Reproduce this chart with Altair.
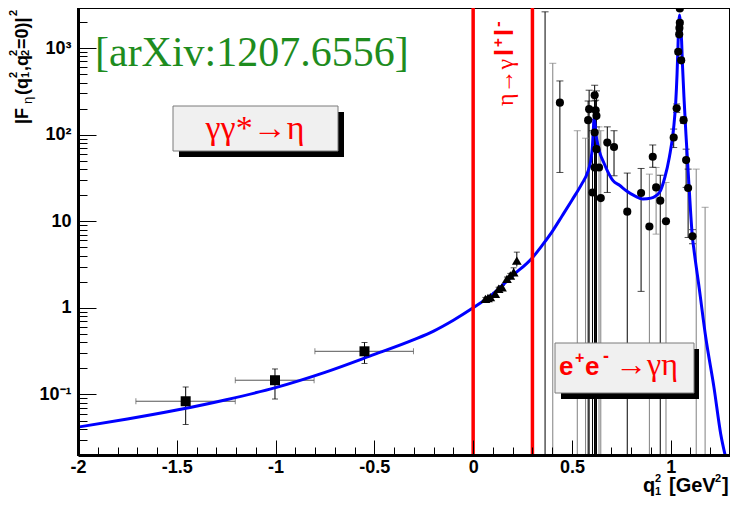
import altair as alt
import pandas as pd

# ---------------- data ----------------
# theory curve |F(q1^2, 0)|^2
curve_x = [-2.0, -1.75, -1.5, -1.25, -1.0, -0.75, -0.5, -0.3, -0.2, -0.1, 0.0, 0.1, 0.2, 0.3,
           0.35, 0.4, 0.45, 0.5, 0.55, 0.58, 0.595, 0.603, 0.608, 0.612, 0.616, 0.622, 0.632,
           0.645, 0.657, 0.68, 0.708, 0.741, 0.775, 0.82, 0.859, 0.90, 0.943, 0.97, 0.993,
           1.015, 1.025, 1.032, 1.037, 1.041, 1.045, 1.050, 1.055, 1.060, 1.068, 1.077, 1.093,
           1.110, 1.118, 1.144, 1.177, 1.219, 1.253, 1.28]
curve_y = [0.042, 0.052, 0.066, 0.087, 0.12, 0.18, 0.29, 0.43, 0.54, 0.72, 1.0, 1.45, 2.36, 3.8,
           5.3, 7.6, 11.5, 17.5, 27.0, 37.0, 50.0, 70.0, 110.0, 155.0, 140.0, 100.0, 75.0,
           58.0, 50.0, 38.0, 29.4, 26.0, 22.5, 19.5, 18.1, 18.5, 21.5, 32.0, 55.0,
           121.0, 230.0, 500.0, 1100.0, 2000.0, 2400.0, 1800.0, 1200.0, 600.0, 245.0, 101.0, 24.6,
           6.5, 4.6, 1.7, 0.46, 0.12, 0.035, 0.018]

# space-like data (squares)
sq_x = [-1.455, -1.003, -0.550]
sq_y = [0.0835, 0.146, 0.315]
sq_xlo = [-1.707, -1.204, -0.801]
sq_xhi = [-1.204, -0.805, -0.302]
sq_ylo = [0.045, 0.0886, 0.228]
sq_yhi = [0.122, 0.197, 0.398]

# eta -> gamma l+ l- (triangles)
tr_x = [0.062, 0.075, 0.087, 0.112, 0.129, 0.146, 0.171, 0.188, 0.205, 0.221]
tr_y = [1.27, 1.30, 1.33, 1.45, 1.66, 1.73, 2.16, 2.36, 2.58, 3.51]
tr_lo = [1.22, 1.25, 1.28, 1.39, 1.59, 1.65, 2.05, 2.22, 2.30, 3.00]
tr_hi = [1.32, 1.35, 1.38, 1.51, 1.73, 1.81, 2.27, 2.50, 2.90, 4.40]

# e+e- -> gamma eta (circles)
ee_x = [0.439, 0.582, 0.587, 0.604, 0.615, 0.615, 0.615, 0.620, 0.624, 0.624, 0.637, 0.646,
        0.679, 0.713, 0.780, 0.850, 0.892, 0.909, 0.926, 0.947, 0.976, 1.015, 1.030, 1.038,
        1.043, 1.044, 1.046, 1.046, 1.053, 1.065, 1.078, 1.088, 1.110]
ee_y = [234, 147, 197, 21.5, 285, 106, 41.8, 191, 165, 68, 41.8, 18.5,
        81, 72, 12.9, 21.2, 8.7, 55.5, 24.6, 17.3, 10.0, 92.6, 202, 906,
        1439, 1700, 1954, 2865, 721, 147, 50.8, 24.2, 6.7]
ee_lo = [36.6, 0.01, 0.01, 0.01, 0.01, 0.01, 0.01, 0.01, 0.01, 0.01, 0.01, 0.01,
         21.5, 33.5, 0.01, 1.55, 0.01, 42, 7.1, 0.01, 0.01, 71, 180, 850,
         1350, 1600, 1850, 2750, 680, 135, 24.6, 6.5, 5.5]
ee_hi = [417, 245, 326, 111, 372, 245, 150, 250, 320, 123, 123, 111,
         123, 111, 36, 40.7, 35, 76, 41.8, 34, 28, 116, 226, 960,
         1530, 1800, 2060, 2980, 765, 160, 68, 40, 8.0]
ee_grp = ['k', 'k', 'k', 'k', 'k', 'k', 'k', 'k', 'k', 'k', 'g', 'g',
          'k', 'k', 'k', 'k', 'g', 'k', 'g', 'k', 'g', 'k', 'k', 'k',
          'k', 'k', 'k', 'k', 'k', 'k', 'k', 'k', 'k']

# e+e- points whose markers lie off the frame (error bars only)
eb_x = [0.364, 0.403, 0.527, 0.569, 1.129, 1.174]
eb_lo = [0.01, 0.01, 0.01, 0.01, 0.01, 0.01]
eb_hi = [2620, 667, 111, 91, 40, 14.5]
eb_grp = ['k', 'g', 'g', 'g', 'g', 'g']

# vertical red lines (q^2 = 0 and threshold)
red_x = [0.0, 0.3]

# axis ticks
x_major = [-2, -1.5, -1, -0.5, 0, 0.5, 1]
x_minor = [-2.0, -1.9, -1.8, -1.7, -1.6, -1.5, -1.4, -1.3, -1.2, -1.1, -1.0, -0.9, -0.8, -0.7,
           -0.6, -0.5, -0.4, -0.3, -0.2, -0.1, 0.0, 0.1, 0.2, 0.3, 0.4, 0.5, 0.6, 0.7, 0.8,
           0.9, 1.0, 1.1, 1.2]
y_major = [0.1, 1, 10, 100, 1000]
y_minor = [0.02, 0.03, 0.04, 0.05, 0.06, 0.07, 0.08, 0.09,
           0.1, 0.2, 0.3, 0.4, 0.5, 0.6, 0.7, 0.8, 0.9,
           1, 2, 3, 4, 5, 6, 7, 8, 9,
           10, 20, 30, 40, 50, 60, 70, 80, 90,
           100, 200, 300, 400, 500, 600, 700, 800, 900,
           1000, 2000]

# ---------------- chart ----------------
PL = 70          # left padding
W, H = 652, 447  # plot area (svg = 722 x 490 so the page never scrolls)
L, T = 8 + PL, 8  # page position of plot origin

curve = pd.DataFrame({'x': curve_x, 'y': curve_y})
sq = pd.DataFrame({'x': sq_x, 'y': sq_y, 'xlo': sq_xlo, 'xhi': sq_xhi, 'ylo': sq_ylo, 'yhi': sq_yhi})
tr = pd.DataFrame({'x': tr_x, 'y': tr_y, 'lo': tr_lo, 'hi': tr_hi})
ee = pd.DataFrame({'x': ee_x, 'y': ee_y, 'lo': ee_lo, 'hi': ee_hi, 'grp': ee_grp})
eb = pd.DataFrame({'x': eb_x, 'lo': eb_lo, 'hi': eb_hi, 'grp': eb_grp})
bars = pd.concat([ee[['x', 'lo', 'hi', 'grp']], eb], ignore_index=True)
red = pd.DataFrame({'x': red_x})
dummy = pd.DataFrame({'a': [0]})

xs = alt.Scale(domain=[-2, 1.3], nice=False, zero=False)
ys = alt.Scale(type='log', domain=[0.02, 2900], nice=False)
gcol = alt.Color('grp:N', scale=alt.Scale(domain=['k', 'g'], range=['#000000', '#808080']), legend=None)

FONT = 'Liberation Sans'
SERIF = 'Liberation Serif'

x_label_axis = alt.Axis(orient='bottom', values=x_major, labelExpr='toString(datum.value)',
                        ticks=False, domain=True, domainWidth=3, domainColor='black',
                        labelFont=FONT, labelFontWeight='bold', labelFontSize=18, labelColor='black',
                        labelPadding=3, labelFlush=False, labelOverlap=False, grid=False, title=None, zindex=2)
y_label_axis = alt.Axis(orient='left', values=y_major,
                        labelExpr="datum.value == 0.1 ? '10\u207b\u00b9' : datum.value == 1 ? '1' : "
                                  "datum.value == 10 ? '10' : datum.value == 100 ? '10\u00b2' : '10\u00b3'",
                        ticks=False, domain=True, domainWidth=3, domainColor='black',
                        labelFont=FONT, labelFontWeight='bold', labelFontSize=18, labelColor='black',
                        labelPadding=7, labelFlush=False, labelOverlap=False, grid=False, title=None, zindex=2)
x_tick_axis = alt.Axis(orient='top', offset=-H, values=x_minor, labels=False, domain=False,
                       tickColor='black', tickWidth=1,
                       tickSize={'condition': {'test': 'abs(datum.value*2 - round(datum.value*2)) < 0.001', 'value': 15},
                                 'value': 8},
                       grid=False, title=None, zindex=2)
y_tick_axis = alt.Axis(orient='right', offset=-W, values=y_minor, labels=False, domain=False,
                       tickColor='black', tickWidth=1,
                       tickSize={'condition': {'test': 'abs(log(datum.value)/LN10 - round(log(datum.value)/LN10)) < 0.001', 'value': 18},
                                 'value': 9},
                       grid=False, title=None, zindex=2)


def X(f, axis=None):
    return alt.X(f, type='quantitative', scale=xs, axis=axis)


def Y(f, axis=None):
    return alt.Y(f, type='quantitative', scale=ys, axis=axis)


layers = []
# error bars of e+e- data
layers.append(alt.Chart(bars).mark_rule(strokeWidth=1, clip=True).encode(
    x=X('x'), y=Y('lo'), y2='hi', color=gcol))
layers.append(alt.Chart(bars).mark_tick(orient='horizontal', size=7, thickness=1, clip=True).encode(
    x=X('x'), y=Y('hi'), color=gcol))
layers.append(alt.Chart(bars).mark_tick(orient='horizontal', size=7, thickness=1, clip=True).encode(
    x=X('x'), y=Y('lo'), color=gcol))
# error bars of squares
layers.append(alt.Chart(sq).mark_rule(strokeWidth=1, color='black').encode(x=X('x'), y=Y('ylo'), y2='yhi'))
layers.append(alt.Chart(sq).mark_rule(strokeWidth=1, color='#555555').encode(x=X('xlo'), x2='xhi', y=Y('y')))
for f in ['ylo', 'yhi']:
    layers.append(alt.Chart(sq).mark_tick(orient='horizontal', size=6, thickness=1, color='black').encode(
        x=X('x'), y=Y(f)))
for f in ['xlo', 'xhi']:
    layers.append(alt.Chart(sq).mark_tick(orient='vertical', size=6, thickness=1, color='#555555').encode(
        x=X(f), y=Y('y')))
# error bars of triangles
layers.append(alt.Chart(tr).mark_rule(strokeWidth=1, color='black').encode(x=X('x'), y=Y('lo'), y2='hi'))
layers.append(alt.Chart(tr).mark_tick(orient='horizontal', size=6, thickness=1, color='black').encode(
    x=X('x'), y=Y('hi')))
# theory curve (carries the labelled axes)
layers.append(alt.Chart(curve).mark_line(color='#0000ff', strokeWidth=3, clip=True, interpolate='monotone').encode(
    x=X('x', x_label_axis), y=Y('y', y_label_axis), order='x:Q'))
# red vertical lines
layers.append(alt.Chart(red).mark_rule(color='#ff0000', strokeWidth=3.5).encode(x=X('x')))
# markers
layers.append(alt.Chart(sq).mark_square(size=100, color='black', opacity=1).encode(x=X('x'), y=Y('y')))
layers.append(alt.Chart(tr).mark_point(shape='triangle-up', filled=True, size=95, color='black', opacity=1).encode(
    x=X('x'), y=Y('y')))
layers.append(alt.Chart(ee).mark_circle(size=66, color='black', opacity=1, clip=True).encode(
    x=X('x', x_tick_axis), y=Y('y', y_tick_axis)))


# ---------------- annotations (page pixel positions) ----------------
def rect(x1, y1, x2, y2, **kw):
    return alt.Chart(dummy).mark_rect(**kw).encode(
        x=alt.value(x1 - L), x2=alt.value(x2 - L), y=alt.value(y1 - T), y2=alt.value(y2 - T))


def txt(s, x, y, size, font=FONT, weight='bold', color='black', angle=0, align='left'):
    return alt.Chart(dummy).mark_text(text=s, font=font, fontSize=size, fontWeight=weight, color=color,
                                      angle=angle, align=align, baseline='alphabetic').encode(
        x=alt.value(x - L), y=alt.value(y - T))


RED = '#ff0000'
layers += [
    txt('[arXiv:1207.6556]', 95, 66, 42, font=SERIF, weight='normal', color='#1e8c1e'),
    rect(179, 112, 344, 157, fill='black'),
    rect(173, 106, 338, 151, fill='#f0f0f0', stroke='#7a7a7a', strokeWidth=1),
    txt('\u03b3\u03b3*\u2192\u03b7', 255, 139, 34, font=SERIF, weight='normal', color=RED, align='center'),
    rect(561, 349, 699, 399, fill='black'),
    rect(555, 343, 694, 393, fill='#f0f0f0', stroke='#7a7a7a', strokeWidth=1),
    txt('e', 559, 375, 26, color=RED),
    txt('+', 575, 363, 16, color=RED),
    txt('e', 585, 375, 26, color=RED),
    txt('-', 603, 362, 18, color=RED),
    txt('\u2192\u03b3\u03b7', 615, 375, 32, font=SERIF, weight='normal', color=RED),
    # vertical label between the red lines
    txt('\u03b7\u2192\u03b3', 513, 106, 24, font=SERIF, weight='normal', color=RED, angle=270),
    txt('l', 513, 56, 25, color=RED, angle=270),
    txt('+', 503, 47, 15, color=RED, angle=270),
    txt('l', 513, 36, 25, color=RED, angle=270),
    txt('-', 503, 27, 17, color=RED, angle=270),
    # y title |F_eta(q1^2,q2^2=0)|^2
    txt('|F', 28, 124, 18, angle=270),
    txt('\u03b7', 32, 104, 13, weight='normal', angle=270),
    txt('(q', 28, 95, 18, angle=270),
    txt('2', 17, 78, 11, angle=270),
    txt('1', 29, 78, 11, angle=270),
    txt(',q', 28, 71, 18, angle=270),
    txt('2', 17, 56, 11, angle=270),
    txt('2', 29, 56, 11, angle=270),
    txt('=0)|', 28, 49, 18, angle=270),
    txt('2', 17, 16, 11, angle=270),
    # x title q1^2 [GeV^2]
    txt('q', 643, 492, 20),
    txt('2', 655, 482, 11),
    txt('1', 655, 495, 11),
    txt('[GeV', 669, 492, 20),
    txt('2', 715, 482, 11),
    txt(']', 722, 492, 20),
]

chart = alt.layer(*layers).resolve_axis(x='independent', y='independent').properties(
    width=W, height=H,
    padding={'left': PL, 'top': 0, 'right': 0, 'bottom': 43},
    autosize=alt.AutoSizeParams(type='none'),
).configure_view(stroke='black', strokeWidth=2)

chart.save('out.html', embed_options={'renderer': 'svg', 'actions': False})
